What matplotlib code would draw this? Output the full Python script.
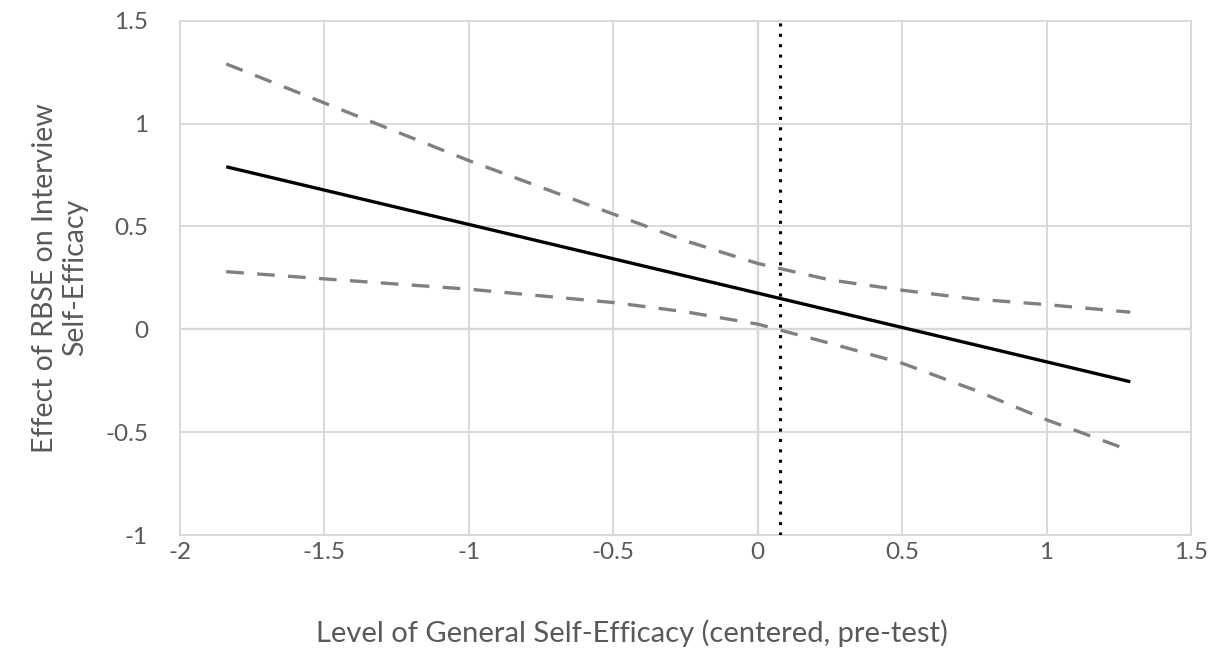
import matplotlib
matplotlib.use("Agg")
import matplotlib.pyplot as plt

# Data
effect_x = [-1.84, 1.29]
effect_y = [0.79, -0.255]

band_x = [-1.84, -1.5, -1.0, -0.5, -0.25, 0.0, 0.25, 0.5, 0.75, 1.0, 1.29]
upper_y = [1.29, 1.10, 0.82, 0.56, 0.43, 0.32, 0.24, 0.19, 0.147, 0.12, 0.083]
lower_y = [0.28, 0.245, 0.195, 0.13, 0.085, 0.025, -0.068, -0.165, -0.295, -0.44, -0.59]

jn_x = 0.076  # Johnson-Neyman boundary

x_ticks = [-2, -1.5, -1, -0.5, 0, 0.5, 1, 1.5]
x_tick_labels = ["-2", "-1.5", "-1", "-0.5", "0", "0.5", "1", "1.5"]
y_ticks = [-1, -0.5, 0, 0.5, 1, 1.5]
y_tick_labels = ["-1", "-0.5", "0", "0.5", "1", "1.5"]

x_label = "Level of General Self-Efficacy (centered, pre-test)"
y_label = "Effect of RBSE on Interview\nSelf-Efficacy"

plt.rcParams['font.family'] = ['Lato', 'DejaVu Sans']

fig = plt.figure(figsize=(12.19, 6.54), dpi=100)
ax = fig.add_axes([180/1219, (654-535)/654, (1191-180)/1219, (535-20.7)/654])

grid_c = "#d9d9d9"
ax.set_xlim(-2, 1.5)
ax.set_ylim(-1, 1.5)
ax.set_xticks(x_ticks)
ax.set_xticklabels(x_tick_labels)
ax.set_yticks(y_ticks)
ax.set_yticklabels(y_tick_labels)
ax.grid(True, color=grid_c, linewidth=1.4, zorder=0)
for s in ax.spines.values():
    s.set_color(grid_c)
    s.set_linewidth(1.4)
ax.tick_params(length=0, labelsize=17.5, labelcolor="#595959")
ax.tick_params(axis='x', pad=5)
ax.tick_params(axis='y', pad=23)

ax.axhline(0, color="#bfbfbf", linewidth=1.6, zorder=1)
ax.axvline(0, color="#bfbfbf", linewidth=1.6, zorder=1)

ax.plot(band_x, upper_y, color="#808080", linewidth=2.4, dashes=(5.3, 4.0), zorder=3)
ax.plot(band_x, lower_y, color="#808080", linewidth=2.4, dashes=(5.3, 4.0), zorder=3)
ax.plot(effect_x, effect_y, color="black", linewidth=2.4, solid_capstyle='butt', zorder=4)
ax.axvline(jn_x, color="black", linewidth=2.2, linestyle=(0, (1, 2.4)), zorder=5)

ax.set_xlabel(x_label, fontsize=21, color="#595959")
ax.xaxis.set_label_coords((632 - 180) / 1011, -(633 - 535) / 514.3, transform=ax.transAxes)
ax.xaxis.label.set_va("center")
ax.set_ylabel(y_label, fontsize=20.5, color="#595959", labelpad=12, linespacing=1.2)

fig.savefig("out.png", dpi=100)
